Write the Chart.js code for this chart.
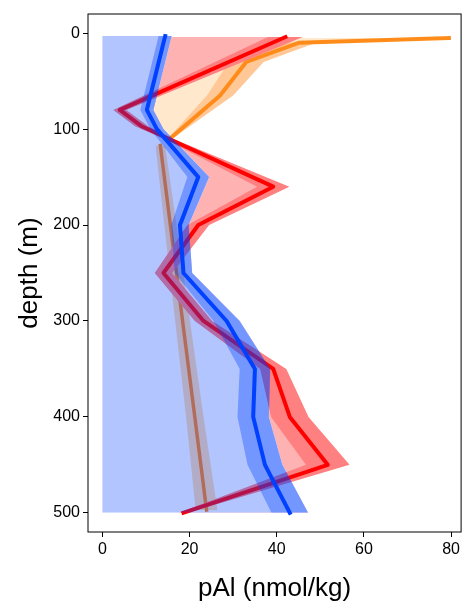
<!DOCTYPE html>
<html>
<head>
<meta charset="utf-8">
<script src="https://cdn.jsdelivr.net/npm/chart.js@4"></script>
<style>
    body { margin: 0; background: #fff; }
    canvas { display: block; }
</style>
</head>
<body>
<canvas id="myChart" width="463" height="602"></canvas>
<script>
'use strict'

const xTicks = [0, 20, 40, 60, 80]
const yTicks = [0, 100, 200, 300, 400, 500]

// blue profile (depth m -> pAl nmol/kg) with its error
const blueDepths = [3, 80, 100, 150, 200, 250, 300, 350, 400, 450, 500]
const blueVals = [14.4, 10.2, 12.5, 22, 17.8, 18.6, 28.5, 35, 34.6, 37.3, 43]
const blueErrs = [1.5, 1.5, 1.5, 2.5, 2, 2, 3, 3.5, 3.6, 4, 4.2]

// red profile
const redDepths = [4, 80, 97, 110, 160, 200, 250, 300, 350, 400, 450, 500]
const redVals = [42, 4, 9, 15.2, 39.2, 22, 14, 23.2, 39.2, 43, 51.7, 18.6]
const redErrs = [4, 1.5, 1.5, 1, 3.7, 2.5, 2, 2, 3, 4.3, 5, 1]

// orange profile, upper water column
const orangeDepths = [5, 10, 30, 65, 110]
const orangeVals = [79.5, 45, 33, 27, 15.5]
const orangeErrs = [0.5, 4, 4, 3, 0.5]

// orange profile, deep part
const deepDepths = [117, 200, 300, 400, 497]
const deepVals = [13.3, 15.6, 18.4, 21.2, 23.9]
const deepErrs = [1.1, 1.4, 1.7, 2.0, 2.5]

const FONT = 'Liberation Sans, Arial, Helvetica, sans-serif'

function toPoints(depths, vals, errs, sign) {
    return depths.map((d, i) => ({ x: vals[i] + sign * (errs ? errs[i] : 0), y: d }))
}

function layer(data, opts) {
    return Object.assign({
        data: data,
        borderWidth: 0,
        borderColor: 'transparent',
        backgroundColor: 'transparent',
        pointRadius: 0,
        pointHoverRadius: 0,
        tension: 0,
        fill: false,
        borderCapStyle: 'square',
        borderJoinStyle: 'round'
    }, opts)
}

const orangePts = toPoints(orangeDepths, orangeVals, null, 0)
const redPts = toPoints(redDepths, redVals, null, 0)
const bluePts = toPoints(blueDepths, blueVals, null, 0)
const deepPts = toPoints(deepDepths, deepVals, null, 0)
const blueUpper = toPoints(blueDepths, blueVals, blueErrs, 1)

// listed bottom to top; fill targets refer to these indices
const datasets = [
    layer(orangePts, { fill: 1, backgroundColor: 'rgba(255,140,0,0.2)' }),          // 0 peach
    layer(redPts),                                                                   // 1
    layer(redPts, { fill: 3, backgroundColor: 'rgba(255,0,0,0.3)' }),                // 2 pink
    layer(blueUpper, { fill: 'origin', backgroundColor: '#ffffff' }),                // 3
    layer(toPoints(orangeDepths, orangeVals, orangeErrs, -1)),                       // 4
    layer(toPoints(orangeDepths, orangeVals, orangeErrs, 1), { fill: 4, backgroundColor: '#ffc896' }),
    layer(orangePts, { borderWidth: 4, borderColor: '#ff8c1a' }),                    // 6
    layer(toPoints(deepDepths, deepVals, deepErrs, -1)),                             // 7
    layer(toPoints(deepDepths, deepVals, deepErrs, 1), { fill: 7, backgroundColor: '#ffdcae' }),
    layer(deepPts, { borderWidth: 3.5, borderColor: '#ff8214' }),                    // 9
    layer(toPoints(redDepths, redVals, redErrs, -1)),                                // 10
    layer(toPoints(redDepths, redVals, redErrs, 1), { fill: 10, backgroundColor: '#ff8080' }),
    layer(redPts, { borderWidth: 4, borderColor: '#ff0000' }),                       // 12
    layer(blueUpper, { fill: 'origin', backgroundColor: 'rgba(0,64,255,0.3)' }),     // 13
    layer(toPoints(blueDepths, blueVals, blueErrs, -1)),                             // 14
    layer(blueUpper, { fill: 14, backgroundColor: 'rgba(0,64,255,0.35)' }),          // 15
    layer(bluePts, { borderWidth: 4, borderColor: '#0040ff' })                       // 16
]
datasets.forEach((ds, i) => { ds.order = 100 - i })

const framePlugin = {
    id: 'frame',
    afterDraw(chart) {
        const { ctx, chartArea } = chart
        ctx.save()
        ctx.strokeStyle = '#000'
        ctx.lineWidth = 1
        ctx.strokeRect(chartArea.left, chartArea.top, chartArea.right - chartArea.left, chartArea.bottom - chartArea.top)
        ctx.restore()
    }
}

const axisGrid = {
    display: true,
    drawOnChartArea: false,
    drawTicks: true,
    tickLength: 5,
    tickColor: '#000',
    color: '#000'
}

new Chart(document.getElementById('myChart'), {
    type: 'line',
    data: { datasets: datasets },
    options: {
        indexAxis: 'y',
        responsive: false,
        animation: false,
        devicePixelRatio: 1,
        layout: { padding: { top: 14, right: 1, left: 0, bottom: 0 } },
        plugins: {
            legend: { display: false },
            tooltip: { enabled: false }
        },
        scales: {
            x: {
                type: 'linear',
                min: -3.3,
                max: 82.3,
                afterFit: (scale) => { scale.height = 70 },
                afterBuildTicks: (scale) => { scale.ticks = xTicks.map(v => ({ value: v })) },
                grid: axisGrid,
                border: { display: false },
                ticks: { color: '#000', padding: 3, font: { size: 16, family: FONT } },
                title: {
                    display: true,
                    text: 'pAl (nmol/kg)',
                    color: '#000',
                    font: { size: 26, family: FONT, lineHeight: 1 },
                    padding: { top: 0, bottom: 0 }
                }
            },
            y: {
                type: 'linear',
                reverse: true,
                min: -20,
                max: 520,
                afterFit: (scale) => { scale.width = 88 },
                afterBuildTicks: (scale) => { scale.ticks = yTicks.map(v => ({ value: v })) },
                grid: axisGrid,
                border: { display: false },
                ticks: { color: '#000', padding: 3, font: { size: 16, family: FONT } },
                title: {
                    display: true,
                    text: 'depth (m)',
                    color: '#000',
                    font: { size: 26, family: FONT, lineHeight: 1 },
                    padding: { top: 17, bottom: 0 }
                }
            }
        }
    },
    plugins: [framePlugin]
})
</script>
</body>
</html>
